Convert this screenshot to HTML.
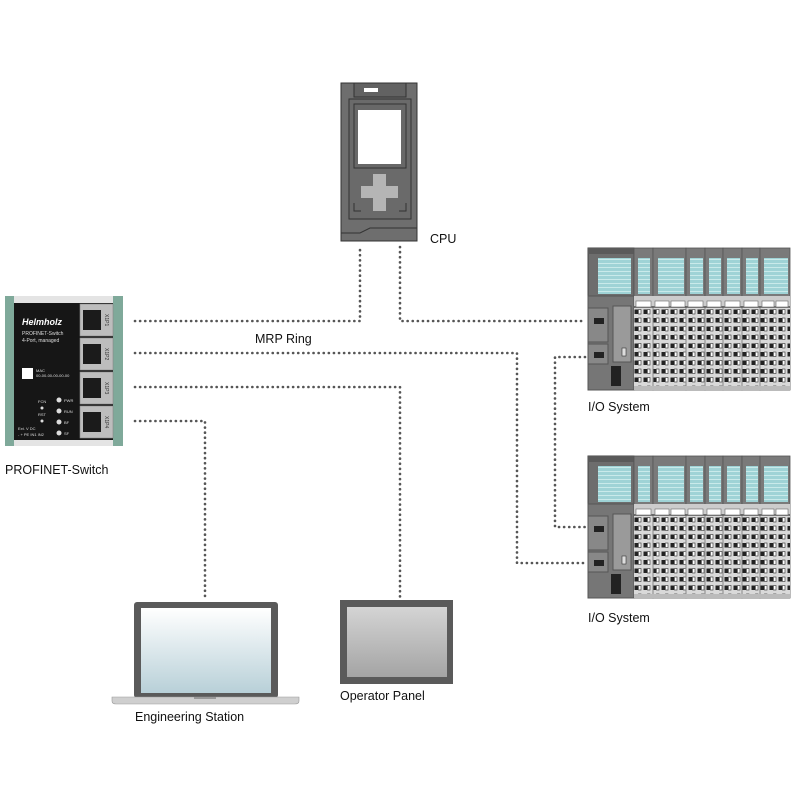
<!DOCTYPE html>
<html><head><meta charset="utf-8"><style>
html,body{margin:0;padding:0;background:#fff;width:800px;height:800px;overflow:hidden}
svg{display:block}
text{font-family:"Liberation Sans",sans-serif;fill:#111}
</style></head><body>
<svg width="800" height="800" viewBox="0 0 800 800">
<defs>
<pattern id="term" x="0" y="0" width="9" height="8.5" patternUnits="userSpaceOnUse">
<rect width="9" height="8.5" fill="#d9d9d9"/>
<rect x="1.5" y="2" width="3.5" height="4.5" fill="#222"/>
<rect x="5.5" y="2" width="2.5" height="4.5" fill="#fff" stroke="#444" stroke-width="0.7"/>
</pattern>
<pattern id="disp" width="10" height="4" patternUnits="userSpaceOnUse">
<rect width="10" height="4" fill="#9fd3d6"/><rect y="3" width="10" height="1" fill="#c9eaea"/>
</pattern>
<linearGradient id="lap" x1="0" y1="0" x2="0" y2="1"><stop offset="0" stop-color="#fff"/><stop offset="1" stop-color="#b8d0d8"/></linearGradient>
<linearGradient id="op" x1="0" y1="0" x2="0" y2="1"><stop offset="0" stop-color="#d4d4d4"/><stop offset="1" stop-color="#a4a4a4"/></linearGradient>
<g id="io">
 <rect x="0" y="0" width="46" height="142" fill="#6d6d6d" stroke="#444"/>
 <rect x="0" y="0" width="46" height="6" fill="#5a5a5a"/>
 <rect x="10" y="10" width="33" height="36" fill="url(#disp)"/>
 <rect x="0" y="48" width="46" height="94" fill="#767676" stroke="#555"/>
 <rect x="0" y="60" width="20" height="34" fill="#888" stroke="#555"/>
 <rect x="0" y="96" width="20" height="20" fill="#888" stroke="#555"/>
 <rect x="6" y="70" width="10" height="6" fill="#222"/><rect x="6" y="104" width="10" height="6" fill="#222"/>
 <rect x="25" y="58" width="18" height="56" fill="#9a9a9a" stroke="#555"/>
 <rect x="34" y="100" width="4" height="8" fill="#ddd" stroke="#333" stroke-width="0.6"/>
 <rect x="23" y="118" width="10" height="20" fill="#222"/>
 <g stroke="#555" stroke-width="0.8">
  <rect x="46" y="0" width="19" height="142" fill="#7a7a7a"/>
  <rect x="65" y="0" width="33" height="142" fill="#7a7a7a"/>
  <rect x="98" y="0" width="19" height="142" fill="#7a7a7a"/>
  <rect x="117" y="0" width="18" height="142" fill="#7a7a7a"/>
  <rect x="135" y="0" width="19" height="142" fill="#7a7a7a"/>
  <rect x="154" y="0" width="18" height="142" fill="#7a7a7a"/>
  <rect x="172" y="0" width="30" height="142" fill="#7a7a7a"/>
 </g>
 <g fill="url(#disp)">
  <rect x="50" y="10" width="12" height="36"/><rect x="70" y="10" width="26" height="36"/>
  <rect x="102" y="10" width="13" height="36"/><rect x="121" y="10" width="12" height="36"/>
  <rect x="139" y="10" width="13" height="36"/><rect x="158" y="10" width="12" height="36"/>
  <rect x="176" y="10" width="24" height="36"/>
 </g>
 <rect x="46" y="48" width="156" height="10" fill="#ccc"/>
 <g fill="#fff" stroke="#666" stroke-width="0.6">
  <rect x="48" y="53" width="15" height="6"/><rect x="67" y="53" width="14" height="6"/><rect x="83" y="53" width="14" height="6"/>
  <rect x="100" y="53" width="15" height="6"/><rect x="119" y="53" width="14" height="6"/><rect x="137" y="53" width="15" height="6"/>
  <rect x="156" y="53" width="14" height="6"/><rect x="174" y="53" width="12" height="6"/><rect x="188" y="53" width="12" height="6"/>
 </g>
 <rect x="46" y="60" width="156" height="78" fill="url(#term)"/>
 <g stroke="#888" stroke-width="1"><path d="M65 60V140M98 60V140M117 60V140M135 60V140M154 60V140M172 60V140"/></g>
 <rect x="46" y="138" width="156" height="4" fill="#bbb"/>
</g>
</defs>

<g fill="none" stroke="#555" stroke-width="2.6" stroke-linecap="round" stroke-dasharray="0.1 5">
 <path d="M135 321 H360 V247"/>
 <path d="M400 247 V321 H585"/>
 <path d="M135 353 H517 V563 H585"/>
 <path d="M135 387 H400 V597"/>
 <path d="M135 421 H205 V597"/>
 <path d="M585 357 H555 V527 H585"/>
</g>

<rect x="5" y="296" width="9" height="150" fill="#7fa99a"/>
<rect x="113" y="296" width="10" height="150" fill="#7fa99a"/>
<rect x="14" y="296" width="99" height="150" fill="#161616"/>
<rect x="14" y="296" width="99" height="7" fill="#e4e4e4"/>
<rect x="14" y="440" width="99" height="6" fill="#e4e4e4"/>
<g fill="#bdbdbd" stroke="#888" stroke-width="0.6">
 <rect x="80" y="304" width="33" height="32"/><rect x="80" y="338" width="33" height="32"/>
 <rect x="80" y="372" width="33" height="32"/><rect x="80" y="406" width="33" height="32"/>
</g>
<g fill="#1b1b1b"><rect x="83" y="310" width="18" height="20"/><rect x="83" y="344" width="18" height="20"/><rect x="83" y="378" width="18" height="20"/><rect x="83" y="412" width="18" height="20"/></g>
<g font-size="5">
 <text x="105" y="314" transform="rotate(90 105 314)" style="fill:#333">X1P1</text>
 <text x="105" y="348" transform="rotate(90 105 348)" style="fill:#333">X1P2</text>
 <text x="105" y="382" transform="rotate(90 105 382)" style="fill:#333">X1P3</text>
 <text x="105" y="416" transform="rotate(90 105 416)" style="fill:#333">X1P4</text>
</g>
<text x="22" y="325" font-size="9" font-weight="bold" font-style="italic" style="fill:#fff">Helmholz</text>
<text x="22" y="335" font-size="5" style="fill:#ddd">PROFINET-Switch</text>
<text x="22" y="342" font-size="5" style="fill:#ddd">4-Port, managed</text>
<rect x="22" y="368" width="11" height="11" fill="#fff"/>
<text x="36" y="372" font-size="4" style="fill:#ddd">MAC</text>
<text x="36" y="377" font-size="4" style="fill:#ddd">00-00-00-00-00-00</text>
<g font-size="4"><text x="38" y="403" style="fill:#ddd">FCN</text><text x="38" y="416" style="fill:#ddd">RST</text>
<text x="64" y="402" style="fill:#ddd">PWR</text><text x="64" y="413" style="fill:#ddd">RUN</text><text x="64" y="424" style="fill:#ddd">BF</text><text x="64" y="435" style="fill:#ddd">SF</text>
<text x="18" y="430" style="fill:#ddd">Ext. V DC</text><text x="18" y="436" style="fill:#ddd">- + PE IN1 IN2</text></g>
<g fill="#ddd"><circle cx="42" cy="408" r="1.5"/><circle cx="42" cy="421" r="1.5"/>
<circle cx="59" cy="400" r="2.5"/><circle cx="59" cy="411" r="2.5"/><circle cx="59" cy="422" r="2.5"/><circle cx="59" cy="433" r="2.5"/></g>
<text x="5" y="474" font-size="12.5">PROFINET-Switch</text>

<rect x="341" y="83" width="76" height="158" fill="#6e6e6e" stroke="#333"/>
<rect x="354" y="83" width="52" height="14" fill="#626262" stroke="#333"/>
<rect x="364" y="88" width="14" height="4" fill="#fff"/>
<rect x="349" y="99" width="62" height="120" fill="#6a6a6a" stroke="#333"/>
<rect x="354" y="104" width="52" height="64" fill="#686868" stroke="#333"/>
<rect x="358" y="110" width="43" height="54" fill="#fff"/>
<rect x="361" y="186" width="37" height="12" fill="#b5b5b5"/>
<rect x="373" y="174" width="13" height="37" fill="#b5b5b5"/>
<path d="M354 203 V211 H361 M406 203 V211 H399" stroke="#333" fill="none"/>
<path d="M341 233 H360 L370 228 H417" stroke="#333" fill="none"/>
<text x="430" y="243" font-size="12.5">CPU</text>

<use href="#io" transform="translate(588 248)"/>
<use href="#io" transform="translate(588 456)"/>
<text x="588" y="411" font-size="12.5">I/O System</text>
<text x="588" y="622" font-size="12.5">I/O System</text>
<text x="255" y="343" font-size="12.5">MRP Ring</text>

<rect x="134" y="602" width="144" height="96" rx="3" fill="#5a5a5a"/>
<rect x="141" y="608" width="130" height="85" fill="url(#lap)"/>
<path d="M112 697 H299 V701 Q299 704 295 704 H116 Q112 704 112 701 Z" fill="#cfcfcf" stroke="#999" stroke-width="0.6"/>
<rect x="194" y="697" width="22" height="2" fill="#999"/>
<text x="135" y="721" font-size="12.5">Engineering Station</text>

<rect x="340" y="600" width="113" height="84" fill="#5a5a5a"/>
<rect x="347" y="607" width="100" height="70" fill="url(#op)"/>
<text x="340" y="700" font-size="12.5">Operator Panel</text>
</svg>
</body></html>
